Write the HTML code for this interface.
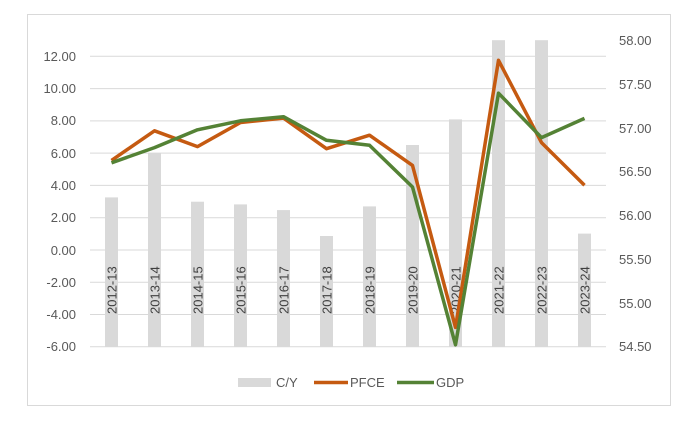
<!DOCTYPE html>
<html><head><style>
body{margin:0;background:#fff;width:696px;height:429px;overflow:hidden}
svg text{font-family:"Liberation Sans",sans-serif;fill:#595959}
</style></head><body>
<svg width="696" height="429" viewBox="0 0 696 429">
<rect x="27.5" y="14.5" width="643" height="391" fill="#fff" stroke="#d9d9d9"/>
<g stroke="#d9d9d9" stroke-width="1">
<line x1="90" x2="606" y1="56.3" y2="56.3"/><line x1="90" x2="606" y1="88.6" y2="88.6"/>
<line x1="90" x2="606" y1="120.9" y2="120.9"/><line x1="90" x2="606" y1="153.1" y2="153.1"/>
<line x1="90" x2="606" y1="185.4" y2="185.4"/><line x1="90" x2="606" y1="217.7" y2="217.7"/>
<line x1="90" x2="606" y1="250" y2="250"/><line x1="90" x2="606" y1="282.2" y2="282.2"/>
<line x1="90" x2="606" y1="314.5" y2="314.5"/><line x1="90" x2="606" y1="346.8" y2="346.8"/>
</g>
<g font-size="13" text-anchor="end">
<text x="76" y="61">12.00</text><text x="76" y="93">10.00</text><text x="76" y="125">8.00</text>
<text x="76" y="158">6.00</text><text x="76" y="190">4.00</text><text x="76" y="222">2.00</text>
<text x="76" y="255">0.00</text><text x="76" y="287">-2.00</text><text x="76" y="319">-4.00</text>
<text x="76" y="351">-6.00</text>
</g>
<g font-size="13">
<text x="619" y="45">58.00</text><text x="619" y="89">57.50</text><text x="619" y="133">57.00</text>
<text x="619" y="176">56.50</text><text x="619" y="220">56.00</text><text x="619" y="264">55.50</text>
<text x="619" y="308">55.00</text><text x="619" y="351">54.50</text>
</g>
<g fill="#d9d9d9">
<rect x="105" y="197.4" width="13" height="149.4"/><rect x="148" y="153.4" width="13" height="193.4"/>
<rect x="191" y="201.7" width="13" height="145.1"/><rect x="234" y="204.4" width="13" height="142.4"/>
<rect x="277" y="210.1" width="13" height="136.7"/><rect x="320" y="236" width="13" height="110.8"/>
<rect x="363" y="206.4" width="13" height="140.4"/><rect x="406" y="145" width="13" height="201.8"/>
<rect x="449" y="119.4" width="13" height="227.4"/><rect x="492" y="40.2" width="13" height="306.6"/>
<rect x="535" y="40.2" width="13" height="306.6"/><rect x="578" y="233.6" width="13" height="113.2"/>
</g>
<g font-size="13" fill="#404040">
<text transform="translate(116.5,314) rotate(-90)" style="fill:#404040">2012-13</text>
<text transform="translate(159.5,314) rotate(-90)" style="fill:#404040">2013-14</text>
<text transform="translate(202.5,314) rotate(-90)" style="fill:#404040">2014-15</text>
<text transform="translate(245.5,314) rotate(-90)" style="fill:#404040">2015-16</text>
<text transform="translate(288.5,314) rotate(-90)" style="fill:#404040">2016-17</text>
<text transform="translate(331.5,314) rotate(-90)" style="fill:#404040">2017-18</text>
<text transform="translate(374.5,314) rotate(-90)" style="fill:#404040">2018-19</text>
<text transform="translate(417.5,314) rotate(-90)" style="fill:#404040">2019-20</text>
<text transform="translate(460.5,314) rotate(-90)" style="fill:#404040">2020-21</text>
<text transform="translate(503.5,314) rotate(-90)" style="fill:#404040">2021-22</text>
<text transform="translate(546.5,314) rotate(-90)" style="fill:#404040">2022-23</text>
<text transform="translate(589.5,314) rotate(-90)" style="fill:#404040">2023-24</text>
</g>
<polyline fill="none" stroke="#c55a11" stroke-width="3.5" stroke-linejoin="round" points="111.5,160.4 154.5,130.8 197.5,146.6 240.5,122.5 283.5,118.1 326.5,148.7 369.5,135.2 412.5,165.4 455.5,327.4 498.5,60.3 541.5,142.6 584.5,185.3"/>
<polyline fill="none" stroke="#548235" stroke-width="3.5" stroke-linejoin="round" points="111.5,162.8 154.5,147.6 197.5,129.8 240.5,120.8 283.5,116.7 326.5,140.3 369.5,145.3 412.5,187 455.5,344.8 498.5,93.2 541.5,137.6 584.5,118.4"/>
<rect x="238" y="378" width="33" height="9" fill="#d9d9d9"/>
<text x="276" y="387" font-size="13">C/Y</text>
<line x1="314" x2="348" y1="382.5" y2="382.5" stroke="#c55a11" stroke-width="3.5"/>
<text x="350" y="387" font-size="13">PFCE</text>
<line x1="397" x2="434" y1="382.5" y2="382.5" stroke="#548235" stroke-width="3.5"/>
<text x="436" y="387" font-size="13">GDP</text>
</svg>
</body></html>
